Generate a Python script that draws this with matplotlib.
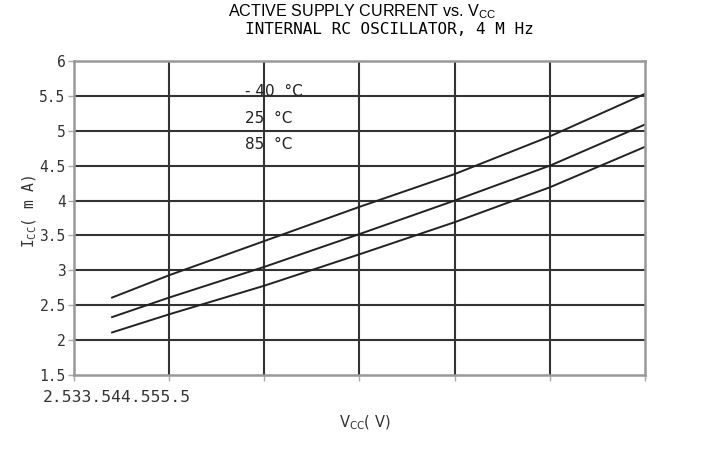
import matplotlib.pyplot as plt

vcc = [2.7, 3.0, 3.5, 4.0, 4.5, 5.0, 5.5]
icc_m40 = [2.61, 2.93, 3.42, 3.91, 4.38, 4.92, 5.53]
icc_25 = [2.33, 2.61, 3.05, 3.52, 4.00, 4.50, 5.09]
icc_85 = [2.11, 2.37, 2.78, 3.23, 3.69, 4.19, 4.77]
temp_labels = ['- 40  °C', '25  °C', '85  °C']

xticks = [2.5, 3, 3.5, 4, 4.5, 5, 5.5]
yticks = [1.5, 2, 2.5, 3, 3.5, 4, 4.5, 5, 5.5, 6]

fig = plt.figure(figsize=(7.2, 4.49), dpi=100)
ax = fig.add_axes([0.1028, 0.1648, 0.793, 0.6993])

for y in yticks[1:-1]:
    ax.axhline(y, color='#333333', lw=1.5, zorder=1)
for x in xticks[1:-1]:
    ax.axvline(x, color='#333333', lw=1.5, zorder=1)

for s in [icc_m40, icc_25, icc_85]:
    ax.plot(vcc, s, color='#222222', lw=1.4, zorder=2)

ax.set_xlim(2.5, 5.5)
ax.set_ylim(1.5, 6)
ax.set_xticks(xticks)
ax.set_xticklabels([])
ax.set_yticks(yticks)
ax.set_yticklabels([('%g' % v) for v in yticks], fontsize=10.5, color='#333333',
                   family='DejaVu Sans Mono')
ax.tick_params(length=4, color='#aaaaaa', width=1, pad=2)
for sp in ax.spines.values():
    sp.set_color('#999999')
    sp.set_linewidth(1.8)

# the x tick labels came out run together in the original
fig.text(43 / 720, 1 - 398 / 449, ''.join('%g' % v for v in xticks),
         family='DejaVu Sans Mono', fontsize=11.8, color='#333333', va='center')

for lab, yy in zip(temp_labels, [5.57, 5.18, 4.80]):
    ax.text(3.40, yy, lab, fontsize=11, color='#222222', va='center')

fig.text(228 / 720, 1 - 12 / 449, r'ACTIVE SUPPLY CURRENT vs. $\mathregular{V_{CC}}$',
         family='Liberation Sans', fontsize=11.6, va='center')
fig.text(245 / 720, 1 - 29 / 449, 'INTERNAL RC OSCILLATOR, 4 M Hz',
         family='DejaVu Sans Mono', fontsize=11.5, va='center')

ax.set_ylabel(r'$\mathregular{I_{CC}}$( m A)', fontsize=10.5, color='#333333',
              family='DejaVu Sans Mono')
ax.yaxis.set_label_coords(-0.062, 0.52)
fig.text(365 / 720, 1 - 423 / 449, r'$\mathregular{V_{CC}}$( V)', fontsize=10.5,
         color='#333333', ha='center', va='center')

fig.savefig('out.png', dpi=100)
